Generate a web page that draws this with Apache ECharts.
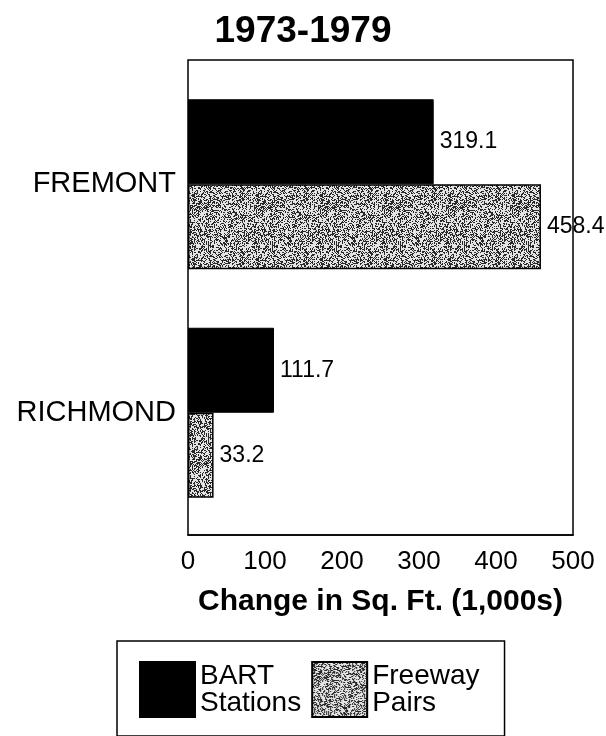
<!DOCTYPE html>
<html>
<head>
<meta charset="utf-8">
<script src="https://cdn.jsdelivr.net/npm/echarts@6/dist/echarts.min.js"></script>
<style>
html,body{margin:0;padding:0;background:#fff;}
#chart{width:606px;height:736px;}
</style>
</head>
<body>
<div id="chart"></div>
<script>
// ---- data ----
var titleText = '1973-1979';
var categories = ['FREMONT', 'RICHMOND'];
var seriesNames = ['BART\nStations', 'Freeway\nPairs'];
var bartValues = [319.1, 111.7];
var freewayValues = [458.4, 33.2];
var xTicks = [0, 100, 200, 300, 400, 500];
var xAxisName = 'Change in Sq. Ft. (1,000s)';

// ---- stipple texture for "Freeway Pairs" (deterministic) ----
function hash01(x, y) {
  var h = Math.imul(x, 374761393) + Math.imul(y, 668265263);
  h = Math.imul(h ^ (h >>> 13), 1274126177);
  h = h ^ (h >>> 16);
  return (h >>> 0) / 4294967296;
}
function makeStipple() {
  var c = document.createElement('canvas');
  c.width = 64; c.height = 64;
  var ctx = c.getContext('2d');
  var img = ctx.createImageData(64, 64);
  for (var y = 0; y < 64; y++) {
    for (var x = 0; x < 64; x++) {
      var t = hash01(x + 7, y + 13);
      var thr = (x % 2 === 0) ? 0.5 : 0.34;
      var v = t < thr ? 40 : 228;
      var i = (y * 64 + x) * 4;
      img.data[i] = v; img.data[i + 1] = v; img.data[i + 2] = v; img.data[i + 3] = 255;
    }
  }
  ctx.putImageData(img, 0, 0);
  return c;
}
var stipple = { image: makeStipple(), repeat: 'repeat' };

var FONT = 'Liberation Sans, Arial, sans-serif';
var chart = echarts.init(document.getElementById('chart'), null, { renderer: 'canvas' });

var xMin = xTicks[0], xMax = xTicks[xTicks.length - 1];

chart.setOption({
  backgroundColor: '#ffffff',
  animation: false,
  title: {
    text: titleText,
    left: 'center',
    top: 8,
    textStyle: { fontFamily: FONT, fontSize: 37, fontWeight: 'bold', color: '#000' }
  },
  legend: {
    left: 117,
    top: 641,
    orient: 'horizontal',
    padding: [20, 25, 18, 22],
    borderColor: '#000',
    borderWidth: 1.5,
    itemGap: 10,
    itemWidth: 55,
    itemHeight: 55,
    icon: 'rect',
    textStyle: { fontFamily: FONT, fontSize: 28, lineHeight: 27, color: '#000' },
    data: seriesNames
  },
  grid: [
    // grid 0: bars
    { left: 188, right: 33, top: 70, bottom: 209, show: false },
    // grid 1: plot frame + x axis
    { left: 188, right: 33, top: 60, bottom: 201, show: true,
      borderColor: '#000', borderWidth: 1.5, backgroundColor: 'transparent' }
  ],
  xAxis: [
    {
      gridIndex: 0, type: 'value', min: xMin, max: xMax, interval: 100,
      show: false
    },
    {
      gridIndex: 1, type: 'value', min: xMin, max: xMax, interval: 100,
      name: xAxisName,
      nameLocation: 'middle',
      nameGap: 52,
      nameTextStyle: { fontFamily: FONT, fontSize: 30, fontWeight: 'bold', color: '#000' },
      axisLine: { show: true, lineStyle: { color: '#000', width: 1.5 } },
      axisTick: { show: false },
      splitLine: { show: false },
      axisLabel: { fontFamily: FONT, fontSize: 26, color: '#000', margin: 14 }
    }
  ],
  yAxis: [
    {
      gridIndex: 0,
      type: 'category',
      inverse: true,
      data: categories,
      axisLine: { show: false },
      axisTick: { show: false },
      splitLine: { show: false },
      axisLabel: { fontFamily: FONT, fontSize: 29, color: '#000', margin: 12 }
    },
    {
      gridIndex: 1, type: 'value', show: false
    }
  ],
  series: [
    {
      name: seriesNames[0],
      type: 'bar',
      xAxisIndex: 0, yAxisIndex: 0,
      data: bartValues,
      barWidth: 85,
      barGap: '0%',
      itemStyle: { color: '#000', borderColor: '#000', borderWidth: 1 },
      label: {
        show: true, position: 'right', distance: 6,
        fontFamily: FONT, fontSize: 23, color: '#000',
        formatter: function (p) { return p.value.toFixed(1); }
      }
    },
    {
      name: seriesNames[1],
      type: 'bar',
      xAxisIndex: 0, yAxisIndex: 0,
      data: freewayValues,
      barWidth: 85,
      barGap: '0%',
      itemStyle: { color: stipple, borderColor: '#000', borderWidth: 1.5 },
      label: {
        show: true, position: 'right', distance: 6,
        fontFamily: FONT, fontSize: 23, color: '#000',
        formatter: function (p) { return p.value.toFixed(1); }
      }
    }
  ]
});
</script>
</body>
</html>
